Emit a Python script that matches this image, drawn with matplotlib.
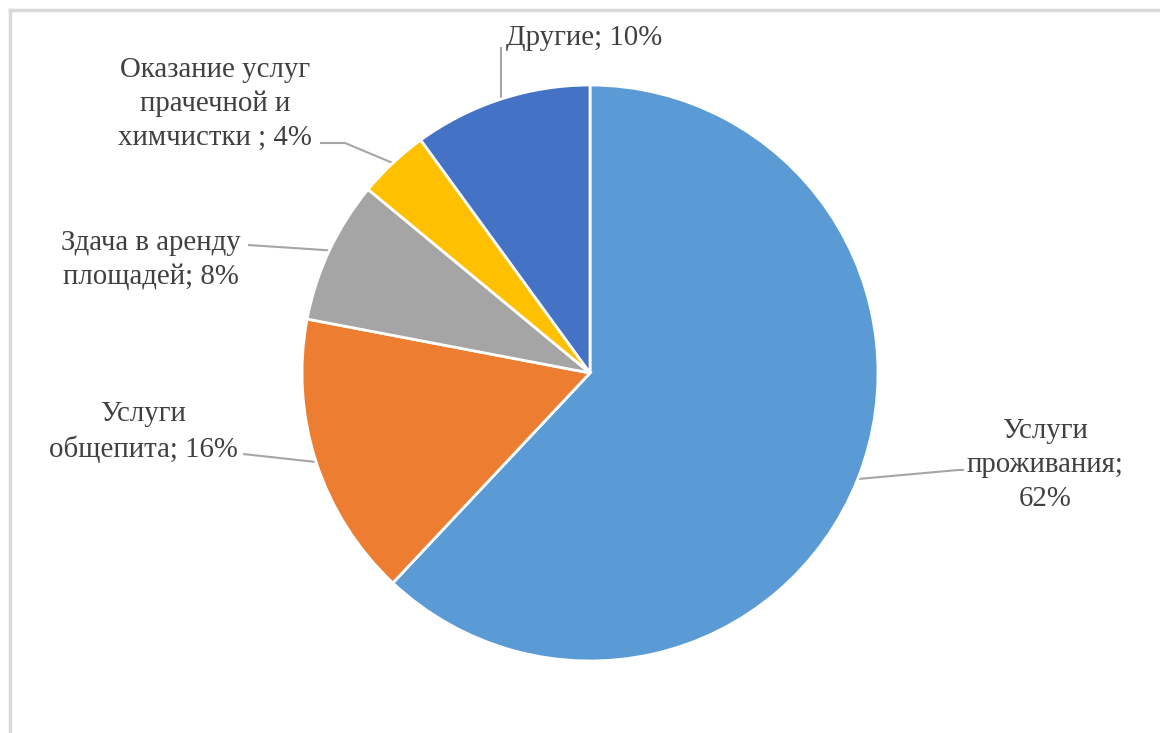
import matplotlib
matplotlib.use("Agg")
import matplotlib.pyplot as plt
import numpy as np
from matplotlib.lines import Line2D

labels = ["Услуги\nпроживания;\n62%", "Услуги\nобщепита; 16%", "Здача в аренду\nплощадей; 8%",
          "Оказание услуг\nпрачечной и\nхимчистки ; 4%", "Другие; 10%"]
values = [62, 16, 8, 4, 10]
colors = ["#5B9BD5", "#ED7D31", "#A5A5A5", "#FFC000", "#4472C4"]

W, H = 1160, 733
CX, CY, R = 590, 373, 288

plt.rcParams['font.family'] = ['Liberation Serif', 'DejaVu Serif']
fig = plt.figure(figsize=(W / 100, H / 100), dpi=100)
ax = fig.add_axes([0, 0, 1, 1])
ax.axis('off')

wedges, _ = ax.pie(values, colors=colors, startangle=90, counterclock=False,
                   radius=1, center=(0, 0),
                   wedgeprops=dict(edgecolor='white', linewidth=2))
ax.set_xlim(-CX / R, (W - CX) / R)
ax.set_ylim(-(H - CY) / R, CY / R)
ax.set_aspect('auto')


def d(px, py):
    return (px - CX) / R, (CY - py) / R


# label centers (pixels) and leader-line elbow points (pixels)
label_pos = [(1045, 465), (143, 432), (151, 260), (215, 104), (584, 38)]
line_ends = [[(958, 470), (964, 470)], [(243, 454)], [(248, 245)],
             [(345, 143), (320, 143)], [(501, 47)]]

text_color = '#404040'
line_color = '#A6A6A6'
for w, lab, (px, py), ends in zip(wedges, labels, label_pos, line_ends):
    ang = np.deg2rad((w.theta1 + w.theta2) / 2)
    x0, y0 = np.cos(ang), np.sin(ang)
    xs = [x0] + [d(*p)[0] for p in ends]
    ys = [y0] + [d(*p)[1] for p in ends]
    ax.plot(xs, ys, color=line_color, lw=1.5, solid_capstyle='butt', zorder=0)
    tx, ty = d(px, py)
    ax.text(tx, ty, lab, ha='center', va='center', fontsize=20.8, color=text_color,
            linespacing=1.4, multialignment='center')

# outer frame (cropped chart border)
fig.add_artist(Line2D([10 / W, 10 / W], [0, 1 - 10 / H], color='#D9D9D9', lw=2.5,
                      transform=fig.transFigure))
fig.add_artist(Line2D([10 / W, 1], [1 - 10 / H, 1 - 10 / H], color='#D9D9D9', lw=2.5,
                      transform=fig.transFigure))

fig.savefig('out.png', dpi=100, facecolor='white')
